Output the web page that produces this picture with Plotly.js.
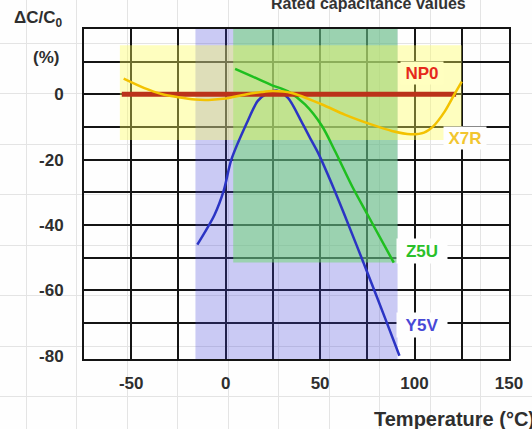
<!DOCTYPE html>
<html>
<head>
<meta charset="utf-8">
<script src="https://cdn.plot.ly/plotly-3.0.1.min.js"></script>
<style>html,body{margin:0;padding:0;background:#fefefe;}#chart{width:532px;height:429px;}</style>
</head>
<body>
<div id="chart"></div>
<script>
// ---- data ----
// Temperature axis (°C) and capacitance change (%)
const np0T = [-55, 122];
const np0C = [0, 0];

const x7rT = [-54, -43, -34, -25, -16, -9, 0, 10, 19, 25, 35, 51, 63, 77, 88, 98, 105, 110, 116, 121, 125];
const x7rC = [4.8, 1.9, 0.1, -0.9, -1.6, -1.7, -1.3, -0.1, 0.7, 1.0, 0.4, -3.1, -6.2, -9.2, -11.2, -12.2, -11.7, -9.7, -5.2, -0.1, 3.9];

const z5uT = [5, 14, 24, 33, 42, 51, 58, 67, 75, 89];
const z5uC = [7.8, 5.5, 2.9, 0.9, -3.1, -9.7, -17.5, -28.2, -36.7, -51.5];

const y5vT = [-15, -6, -1, 3, 11, 17, 22, 27, 33, 40, 45, 49, 57, 63, 75, 85, 92];
const y5vC = [-46, -37, -29.4, -20, -9, -2, 0.3, 1.2, -1.1, -8.2, -13.7, -18, -28.5, -37, -54.5, -69.4, -80];

// tolerance bands (rated capacitance value ranges)
const bandNames = ['Y5V', 'Z5U', 'X7R'];
const bandTmin = [-16, 4, -56];
const bandTmax = [91, 91, 125];
const bandCmin = [-81, -51.5, -14];
const bandCmax = [20, 20, 15];

// tick labels
const xTickVals = [-50, 0, 50, 100, 150];
const xTickText = ['-50', '0', '50', '100', '150'];
const xGridVals = [-25, 25, 75, 125];
const yTickVals = [-80, -60, -40, -20, 0];
const yTickText = ['-80', '-60', '-40', '-20', '0'];
const yGridVals = [-70, -60, -50, -40, -30, -20, -10, 0, 10];

// ---- styling ----
const FONT = 'Liberation Sans, Arial, sans-serif';
const bandFill = ['rgba(70,70,220,0.28)', 'rgba(107,217,107,0.5)', 'rgba(255,255,90,0.38)'];

const traces = [];
// empty trace to create the background "graph paper" subplot
traces.push({x: [], y: [], xaxis: 'x', yaxis: 'y', type: 'scatter', mode: 'lines', hoverinfo: 'skip'});

for (let i = 0; i < bandNames.length; i++) {
  traces.push({
    x: [bandTmin[i], bandTmax[i], bandTmax[i], bandTmin[i], bandTmin[i]],
    y: [bandCmin[i], bandCmin[i], bandCmax[i], bandCmax[i], bandCmin[i]],
    xaxis: 'x2', yaxis: 'y2', type: 'scatter', mode: 'lines',
    fill: 'toself', fillcolor: bandFill[i], line: {width: 0},
    hoverinfo: 'skip', name: bandNames[i] + ' band'
  });
}

traces.push({x: y5vT, y: y5vC, xaxis: 'x2', yaxis: 'y2', type: 'scatter', mode: 'lines',
  line: {color: '#2b34c4', width: 2.5, shape: 'spline', smoothing: 0.8}, name: 'Y5V'});
traces.push({x: z5uT, y: z5uC, xaxis: 'x2', yaxis: 'y2', type: 'scatter', mode: 'lines',
  line: {color: '#1fbf1f', width: 2.5, shape: 'spline', smoothing: 0.8}, name: 'Z5U'});
traces.push({x: np0T, y: np0C, xaxis: 'x2', yaxis: 'y2', type: 'scatter', mode: 'lines',
  line: {color: '#bb321a', width: 5}, name: 'NP0'});
traces.push({x: x7rT, y: x7rC, xaxis: 'x2', yaxis: 'y2', type: 'scatter', mode: 'lines',
  line: {color: '#f3c200', width: 2.5, shape: 'spline', smoothing: 0.8}, name: 'X7R'});

const labelFont = (c) => ({family: FONT, size: 17, color: c, weight: 'bold'});
const textCol = '#2e2e2e';

const layout = {
  width: 532, height: 429,
  margin: {l: 0, r: 0, t: 0, b: 0},
  paper_bgcolor: '#fefefe',
  plot_bgcolor: 'rgba(0,0,0,0)',
  showlegend: false,
  xaxis: {domain: [0, 1], range: [0, 532], tick0: 26, dtick: 50.5, showgrid: true,
    gridcolor: '#e4e4e4', gridwidth: 1, showticklabels: false, zeroline: false,
    ticks: '', showline: false, anchor: 'y', fixedrange: true},
  yaxis: {domain: [0, 1], range: [429, 0], tick0: 43, dtick: 50.5, showgrid: true,
    gridcolor: '#e4e4e4', gridwidth: 1, showticklabels: false, zeroline: false,
    ticks: '', showline: false, anchor: 'x', fixedrange: true},
  xaxis2: {
    domain: [84 / 532, 509 / 532], anchor: 'y2', range: [-75, 150],
    tickmode: 'array', tickvals: xTickVals, ticktext: xTickText,
    showgrid: true, gridcolor: '#141414', gridwidth: 2,
    minor: {tickmode: 'array', tickvals: xGridVals, showgrid: true, gridcolor: '#141414', gridwidth: 2, ticks: ''},
    showline: true, mirror: true, linecolor: '#141414', linewidth: 2,
    zeroline: false, ticks: '', ticklabelstandoff: 8,
    tickfont: {family: FONT, size: 17, color: textCol, weight: 'bold'}
  },
  yaxis2: {
    domain: [(429 - 359) / 429, (429 - 29) / 429], anchor: 'x2', range: [-81, 20],
    tickmode: 'array', tickvals: yTickVals, ticktext: yTickText,
    showgrid: false,
    minor: {tickmode: 'array', tickvals: yGridVals, showgrid: true, gridcolor: '#141414', gridwidth: 2, ticks: ''},
    showline: true, mirror: true, linecolor: '#141414', linewidth: 2,
    zeroline: false, ticks: '', ticklabelstandoff: 15,
    tickfont: {family: FONT, size: 17, color: textCol, weight: 'bold'}
  },
  annotations: [
    {text: 'Rated capacitance values', xref: 'paper', yref: 'paper', x: 368 / 532, y: 1 - 14 / 429,
      xanchor: 'center', yanchor: 'bottom', showarrow: false,
      font: {family: FONT, size: 16, color: '#333', weight: 'bold'}},
    {text: 'ΔC/C<sub>0</sub>', xref: 'paper', yref: 'paper', x: 38 / 532, y: 1 - 19 / 429,
      xanchor: 'center', yanchor: 'middle', showarrow: false,
      font: {family: FONT, size: 17, color: textCol, weight: 'bold'}},
    {text: '(%)', xref: 'paper', yref: 'paper', x: 46 / 532, y: 1 - 57 / 429,
      xanchor: 'center', yanchor: 'middle', showarrow: false,
      font: {family: FONT, size: 17, color: textCol, weight: 'bold'}},
    {text: 'Temperature (°C)', xref: 'paper', yref: 'paper', x: 372 / 532, y: 1 - 419 / 429,
      xanchor: 'left', yanchor: 'middle', showarrow: false,
      font: {family: FONT, size: 20, color: textCol, weight: 'bold'}},
    {text: 'NP0', xref: 'x2', yref: 'y2', x: 104, y: 6.4, showarrow: false,
      bgcolor: 'rgb(255,255,192)', width: 40, height: 20, borderpad: 1, font: labelFont('#e62a1c')},
    {text: 'X7R', xref: 'x2', yref: 'y2', x: 126.5, y: -13.3, showarrow: false,
      bgcolor: '#fefefe', width: 40, height: 20, borderpad: 1, font: labelFont('#f2c630')},
    {text: 'Z5U', xref: 'x2', yref: 'y2', x: 104, y: -48, showarrow: false,
      bgcolor: '#fefefe', width: 48, height: 22, borderpad: 1, font: labelFont('#2ac02a')},
    {text: 'Y5V', xref: 'x2', yref: 'y2', x: 104, y: -70.7, showarrow: false,
      bgcolor: '#fefefe', width: 48, height: 22, borderpad: 1, font: labelFont('#4848d6')}
  ]
};

Plotly.newPlot('chart', traces, layout, {staticPlot: true, displayModeBar: false});
</script>
</body>
</html>
